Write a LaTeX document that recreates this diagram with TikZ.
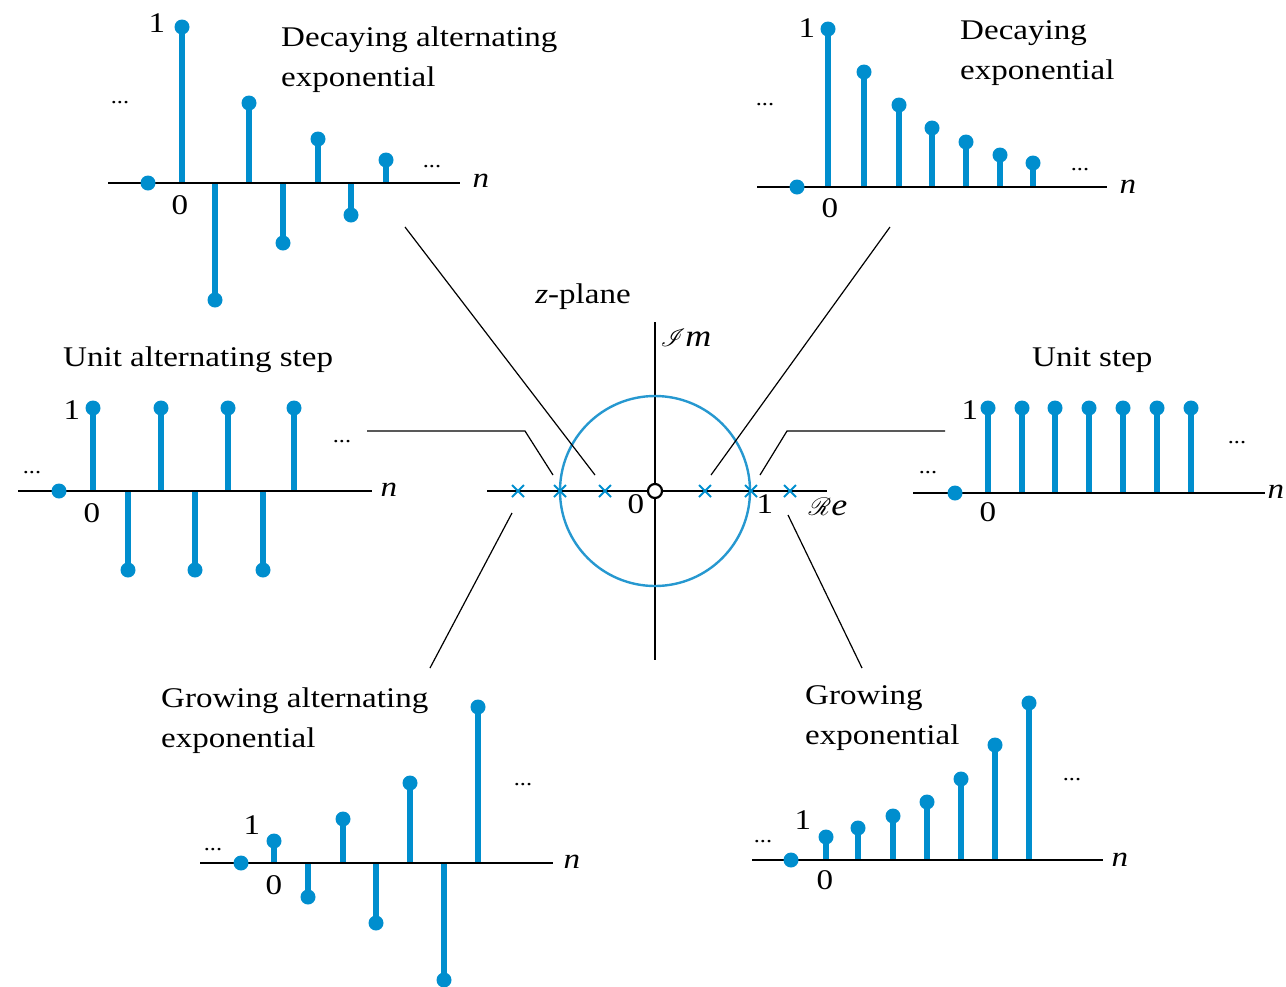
\documentclass[tikz,border=0pt]{standalone}
\usepackage{fontspec}
\setmainfont{Liberation Serif}[FakeStretch=1.16]
\usepackage{mathrsfs}
\usepackage{tikz}
\usetikzlibrary{shapes.misc}
\definecolor{seqblue}{RGB}{0,142,206}
\definecolor{ringblue}{RGB}{38,152,208}

\begin{document}
\begin{tikzpicture}[x=1pt,y=-1pt,
  every node/.style={inner sep=0pt,font=\fontsize{28.5}{40}\selectfont},
  stemline/.style={seqblue,line width=6.5pt},
  naxis/.style={line width=2.6pt},
  leader/.style={line width=1.2pt},
  dotsl/.style={font=\fontsize{21}{24}\selectfont},
  title/.style={anchor=north west,align=left},
  pole/.style={cross out,draw=seqblue,line width=2pt,minimum size=10pt}]
  \useasboundingbox (0,0) rectangle (1286,986);

  % decaying alternating exponential
  \def\seqda{182/27,215/300,249/103,283/243,318/139,351/215,386/160}
  \foreach \x/\y in \seqda \draw[stemline] (\x,183) -- (\x,\y);
  \draw[naxis] (108,183) -- (460,183);
  \foreach \x/\y in \seqda \fill[seqblue] (\x,\y) circle[radius=7.5pt];
  \fill[seqblue] (148,183) circle[radius=7.5pt];
  \node (da-one) at (157,23) {1};
  \node (da-zero) at (180,205) {0};
  \node (da-n) at (481,181) {\textit{n}};
  \node[dotsl] (da-dl) at (120,103) {...};
  \node[dotsl] (da-dr) at (432,167) {...};
  \node[title] (da-title) at (281,27) {Decaying alternating\\exponential};

  % decaying exponential
  \def\seqde{828/29,864/72,899/105,932/128,966/142,1000/155,1033/163}
  \foreach \x/\y in \seqde \draw[stemline] (\x,187) -- (\x,\y);
  \draw[naxis] (757,187) -- (1107,187);
  \foreach \x/\y in \seqde \fill[seqblue] (\x,\y) circle[radius=7.5pt];
  \fill[seqblue] (797,187) circle[radius=7.5pt];
  \node (de-one) at (807,28) {1};
  \node (de-zero) at (830,208) {0};
  \node (de-n) at (1128,187) {\textit{n}};
  \node[dotsl] (de-dl) at (765,105) {...};
  \node[dotsl] (de-dr) at (1080,170) {...};
  \node[title] (de-title) at (960,20) {Decaying\\exponential};

  % unit alternating step
  \def\seqas{93/408,128/570,161/408,195/570,228/408,263/570,294/408}
  \foreach \x/\y in \seqas \draw[stemline] (\x,491) -- (\x,\y);
  \draw[naxis] (18,491) -- (372,491);
  \foreach \x/\y in \seqas \fill[seqblue] (\x,\y) circle[radius=7.5pt];
  \fill[seqblue] (59,491) circle[radius=7.5pt];
  \node (as-one) at (72,410) {1};
  \node (as-zero) at (92,513) {0};
  \node (as-n) at (389,490) {\textit{n}};
  \node[dotsl] (as-dl) at (32,473) {...};
  \node[dotsl] (as-dr) at (342,442) {...};
  \node[title] (as-title) at (63,347) {Unit alternating step};

  % unit step
  \def\sequs{988/408,1022/408,1055/408,1089/408,1123/408,1157/408,1191/408}
  \foreach \x/\y in \sequs \draw[stemline] (\x,493) -- (\x,\y);
  \draw[naxis] (913,493) -- (1265,493);
  \foreach \x/\y in \sequs \fill[seqblue] (\x,\y) circle[radius=7.5pt];
  \fill[seqblue] (955,493) circle[radius=7.5pt];
  \node (us-one) at (970,410) {1};
  \node (us-zero) at (988,512) {0};
  \node (us-n) at (1276,492) {\textit{n}};
  \node[dotsl] (us-dl) at (928,473) {...};
  \node[dotsl] (us-dr) at (1237,443) {...};
  \node[title] (us-title) at (1032,347) {Unit step};

  % growing alternating exponential
  \def\seqga{274/841,308/897,343/819,376/923,410/783,444/980,478/707}
  \foreach \x/\y in \seqga \draw[stemline] (\x,863) -- (\x,\y);
  \draw[naxis] (200,863) -- (553,863);
  \foreach \x/\y in \seqga \fill[seqblue] (\x,\y) circle[radius=7.5pt];
  \fill[seqblue] (241,863) circle[radius=7.5pt];
  \node (ga-one) at (252,825) {1};
  \node (ga-zero) at (274,885) {0};
  \node (ga-n) at (572,862) {\textit{n}};
  \node[dotsl] (ga-dl) at (213,850) {...};
  \node[dotsl] (ga-dr) at (523,785) {...};
  \node[title] (ga-title) at (161,688) {Growing alternating\\exponential};

  % growing exponential
  \def\seqge{826/837,858/828,893/816,927/802,961/779,995/745,1029/703}
  \foreach \x/\y in \seqge \draw[stemline] (\x,860) -- (\x,\y);
  \draw[naxis] (752,860) -- (1103,860);
  \foreach \x/\y in \seqge \fill[seqblue] (\x,\y) circle[radius=7.5pt];
  \fill[seqblue] (791,860) circle[radius=7.5pt];
  \node (ge-one) at (803,820) {1};
  \node (ge-zero) at (825,880) {0};
  \node (ge-n) at (1120,860) {\textit{n}};
  \node[dotsl] (ge-dl) at (763,842) {...};
  \node[dotsl] (ge-dr) at (1072,780) {...};
  \node[title] (ge-title) at (805,685) {Growing\\exponential};

  % z-plane
  \draw[naxis] (487,491) -- (827,491);
  \draw[naxis] (655,322) -- (655,660);
  \draw[ringblue,line width=2.4pt] (655,491) circle[radius=95pt];
  \node[pole] (p-ga) at (518,491) {};
  \node[pole] (p-as) at (560,491) {};
  \node[pole] (p-da) at (605,491) {};
  \node[pole] (p-de) at (705,491) {};
  \node[pole] (p-us) at (751,491) {};
  \node[pole] (p-ge) at (790,491) {};
  \node[draw,circle,fill=white,line width=2.2pt,minimum size=14pt] (orig) at (655,491) {};
  \node (z-zero) at (636,504) {0};
  \node (z-one) at (765,504) {1};
  \node[font=\fontsize{31}{36}\selectfont] (z-re) at (828,507) {$\mathscr{R}$\textit{e}};
  \node[font=\fontsize{31}{36}\selectfont] (z-im) at (686,338) {$\mathscr{I}$\textit{m}};
  \node (z-title) at (583,297) {\textit{z}-plane};

  % leaders from sequences to poles
  \coordinate (da-end) at (405,227);
  \coordinate (de-end) at (890,227);
  \coordinate (as-end) at (367,431);
  \coordinate (as-bend) at (525,431);
  \coordinate (us-end) at (945,431);
  \coordinate (us-bend) at (787,431);
  \coordinate (ga-end) at (430,668);
  \coordinate (ge-end) at (862,668);
  \draw[leader] (da-end) -- ([xshift=-10pt,yshift=16pt]p-da.center);
  \draw[leader] (de-end) -- ([xshift=6pt,yshift=16pt]p-de.center);
  \draw[leader] (as-end) -- (as-bend) -- ([xshift=-7pt,yshift=16pt]p-as.center);
  \draw[leader] (us-end) -- (us-bend) -- ([xshift=9pt,yshift=16pt]p-us.center);
  \draw[leader] (ga-end) -- ([xshift=-6pt,yshift=-22pt]p-ga.center);
  \draw[leader] (ge-end) -- ([xshift=-2pt,yshift=-24pt]p-ge.center);
\end{tikzpicture}
\end{document}
